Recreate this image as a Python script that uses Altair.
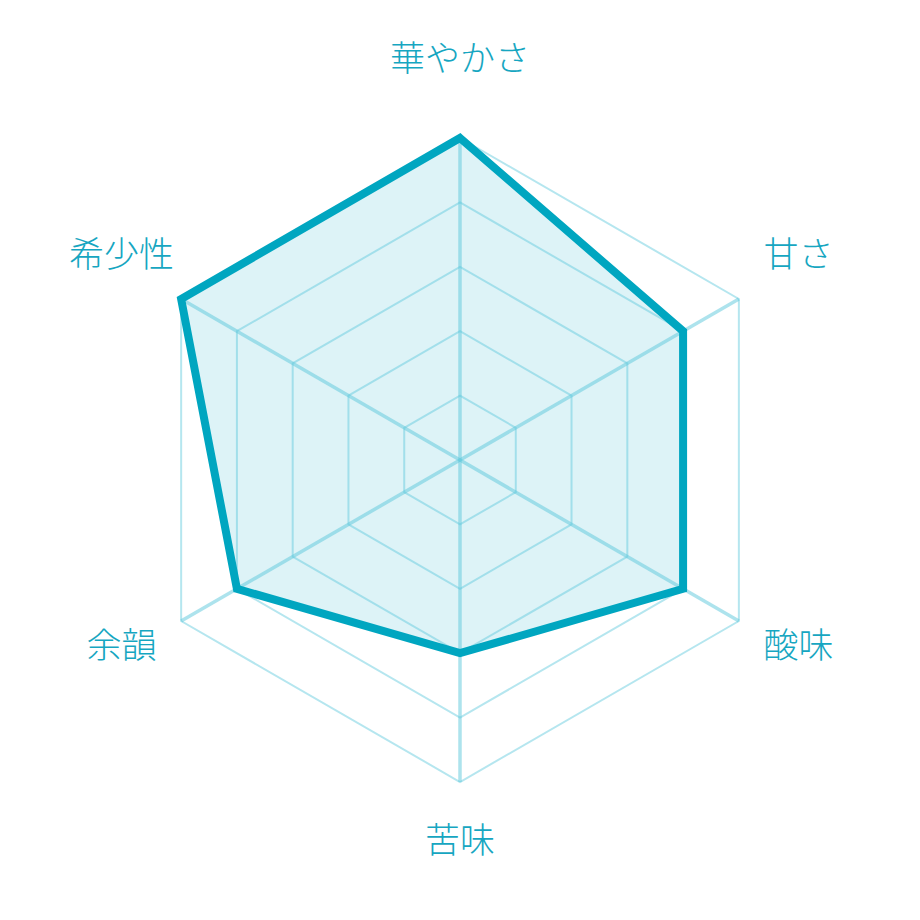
import altair as alt
import pandas as pd

# ---- data ----
axes_labels = ["華やかさ", "甘さ", "酸味", "苦味", "余韻", "希少性"]
values = [5, 4, 4, 3, 4, 5]
levels = [1, 2, 3, 4, 5]
max_value = 5

PX_PER_UNIT = 64.4
HALF = 452 / PX_PER_UNIT
LABEL_R = 391 / PX_PER_UNIT

idx = list(range(len(axes_labels)))
data = pd.DataFrame({"axis": axes_labels, "idx": idx, "value": values})
grid = pd.DataFrame([{"level": l, "idx": i} for l in levels for i in idx])
spokes = pd.DataFrame({"idx": idx, "value": [max_value] * len(idx)})
labels = pd.DataFrame({"axis": axes_labels, "idx": idx, "r": [LABEL_R] * len(idx)})

ANG = "PI/2 - datum.idx*PI/3"

xs = alt.Scale(domain=[-HALF, HALF], nice=False, zero=False)
ys = alt.Scale(domain=[-HALF, HALF], nice=False, zero=False)

def X(f="x"):
    return alt.X(f + ":Q", scale=xs, axis=None)

def Y(f="y"):
    return alt.Y(f + ":Q", scale=ys, axis=None)

LINE = "#00a6c0"
TEXT = "#16a6c1"

fill = alt.Chart(data).transform_calculate(
    ang=ANG,
    x="datum.value*cos(datum.ang)",
    y="datum.value*sin(datum.ang)",
).mark_line(
    interpolate="linear-closed", fill=LINE, fillOpacity=0.135, strokeOpacity=0
).encode(x=X(), y=Y(), order=alt.Order("idx:Q"))

gridlines = alt.Chart(grid).transform_calculate(
    ang=ANG,
    x="datum.level*cos(datum.ang)",
    y="datum.level*sin(datum.ang)",
).mark_line(
    interpolate="linear-closed", color="#5cc8db", strokeWidth=2, opacity=0.45
).encode(x=X(), y=Y(), detail="level:N", order=alt.Order("idx:Q"))

spokelines = alt.Chart(spokes).transform_calculate(
    ang=ANG,
    x="datum.value*cos(datum.ang)",
    y="datum.value*sin(datum.ang)",
    x0="0",
    y0="0",
).mark_rule(color="#5cc8db", strokeWidth=3.5, opacity=0.5).encode(
    x=X("x0"), y=Y("y0"), x2="x:Q", y2="y:Q"
)

outline = alt.Chart(data).transform_calculate(
    ang=ANG,
    x="datum.value*cos(datum.ang)",
    y="datum.value*sin(datum.ang)",
).mark_line(
    interpolate="linear-closed", color=LINE, strokeWidth=8, strokeJoin="miter"
).encode(x=X(), y=Y(), order=alt.Order("idx:Q"))

text = alt.Chart(labels).transform_calculate(
    ang=ANG,
    x="datum.r*cos(datum.ang)",
    y="datum.r*sin(datum.ang)",
).mark_text(
    font="Noto Sans CJK JP", fontSize=35, fontWeight=300, color=TEXT,
    align="center", baseline="middle", dy=-9
).encode(x=X(), y=Y(), text="axis:N")

chart = alt.layer(fill, gridlines, spokelines, outline, text).properties(
    width=904, height=904, padding=0, autosize=alt.AutoSizeParams(type="none")
).configure_view(stroke=None)

chart.save("out.html", embed_options={"renderer": "svg", "actions": False})
